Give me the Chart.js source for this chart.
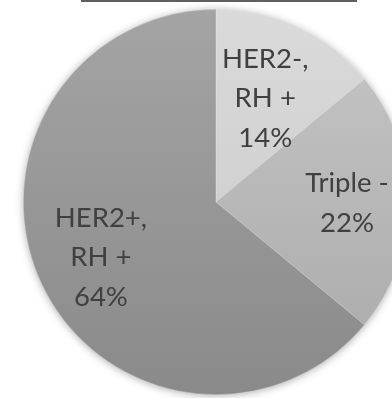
<!DOCTYPE html>
<html>
<head>
<meta charset="utf-8">
<script src="https://cdn.jsdelivr.net/npm/chart.js@4/dist/chart.umd.min.js"></script>
<style>
  html, body { margin: 0; padding: 0; background: #ffffff; overflow: hidden; width: 392px; height: 398px; }
  #wrap { position: absolute; left: 0; top: 0; width: 432px; height: 404px; }
  #titleRule { position: absolute; left: 81px; top: 0px; width: 276px; height: 2px; background: #5f5f5f; }
</style>
</head>
<body>
<div id="wrap"><canvas id="c" width="432" height="404"></canvas></div>
<div id="titleRule"></div>
<script>
const categories = ["HER2-, RH +", "Triple -", "HER2+, RH +"];
const labelLines = [["HER2-,", "RH +"], ["Triple -"], ["HER2+,", "RH +"]];
const values = [14, 22, 64];
const colorsTop = ["#dadada", "#c6c6c6", "#a4a4a4"];
const colorsBottom = ["#c8c8c8", "#a9a9a9", "#8a8a8a"];

const labelRadiusFrac = [0.60, 0.68, 0.66];

const shadowPlugin = {
  id: 'pieShadow',
  beforeDatasetsDraw(chart) {
    const arc = chart.getDatasetMeta(0).data[0];
    if (!arc) return;
    const p = arc.getProps(['x', 'y', 'outerRadius'], true);
    const ctx = chart.ctx;
    ctx.save();
    ctx.shadowColor = 'rgba(0,0,0,0.35)';
    ctx.shadowBlur = 8;
    ctx.shadowOffsetX = 0;
    ctx.shadowOffsetY = 1;
    ctx.fillStyle = '#999999';
    ctx.beginPath();
    ctx.arc(p.x, p.y, p.outerRadius - 0.5, 0, Math.PI * 2);
    ctx.fill();
    ctx.restore();
  }
};

const labelPlugin = {
  id: 'sliceLabels',
  afterDatasetsDraw(chart) {
    const ctx = chart.ctx;
    const meta = chart.getDatasetMeta(0);
    ctx.save();
    ctx.font = '27.5px Lato, "Open Sans", sans-serif';
    ctx.fillStyle = '#404040';
    ctx.textAlign = 'center';
    ctx.textBaseline = 'middle';
    const lineH = 39.5;
    meta.data.forEach((el, i) => {
      const p = el.getProps(['x', 'y', 'startAngle', 'endAngle', 'outerRadius'], true);
      const mid = (p.startAngle + p.endAngle) / 2;
      const r = p.outerRadius * labelRadiusFrac[i];
      const cx = p.x + Math.cos(mid) * r;
      const cy = p.y + Math.sin(mid) * r + 1;
      const lines = labelLines[i].concat([values[i] + '%']);
      const y0 = cy - (lines.length - 1) * lineH / 2;
      lines.forEach((t, k) => ctx.fillText(t, cx, y0 + k * lineH));
    });
    ctx.restore();
  }
};

new Chart(document.getElementById('c'), {
  type: 'pie',
  data: {
    labels: categories,
    datasets: [{
      data: values,
      backgroundColor: (c) => {
        const chart = c.chart;
        const area = chart.chartArea;
        const i = c.dataIndex;
        if (!area) return colorsTop[i];
        const g = chart.ctx.createLinearGradient(0, area.top, 0, area.bottom);
        g.addColorStop(0, colorsTop[i]);
        g.addColorStop(1, colorsBottom[i]);
        return g;
      },
      borderWidth: 0.6,
      borderColor: 'rgba(230,230,230,0.6)'
    }]
  },
  options: {
    responsive: false,
    animation: false,
    layout: { padding: 9 },
    plugins: {
      legend: { display: false },
      tooltip: { enabled: false },
      title: { display: false }
    }
  },
  plugins: [shadowPlugin, labelPlugin]
});
</script>
</body>
</html>
